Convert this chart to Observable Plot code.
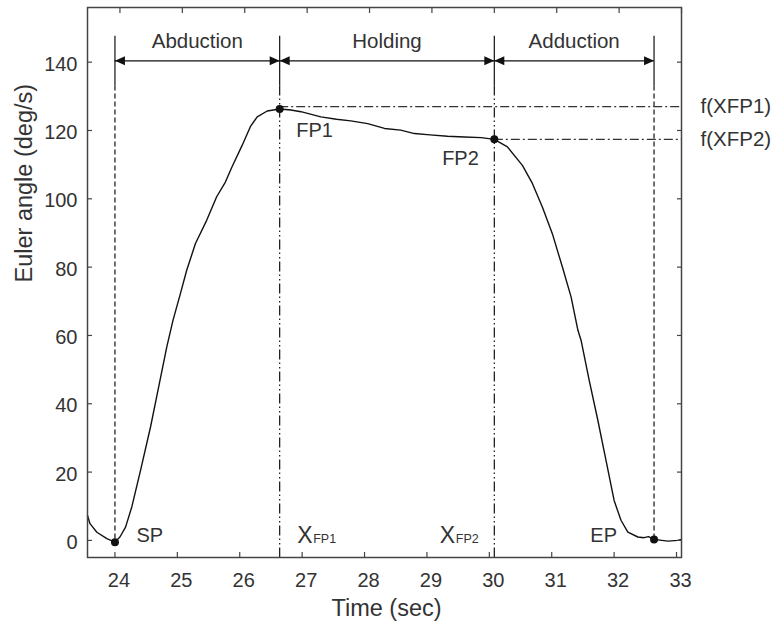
<!DOCTYPE html>
<html>
<head>
<meta charset="utf-8">
<script src="https://cdn.jsdelivr.net/npm/d3@7"></script>
<script src="https://cdn.jsdelivr.net/npm/@observablehq/plot@0.6"></script>
<style>
  html, body { margin: 0; padding: 0; background: #fff; }
</style>
</head>
<body>
<div id="chart"></div>
<script>
// ---- data ----
const time = [23.56, 23.60, 23.71, 23.87, 24.00, 24.08, 24.17, 24.27, 24.41, 24.57, 24.70, 24.83, 24.93,
  25.05, 25.15, 25.29, 25.47, 25.63, 25.77, 25.875, 26.04, 26.17, 26.28, 26.44, 26.64,
  26.82, 26.98, 27.30, 27.55, 27.78, 28.05, 28.32, 28.58, 28.80, 29.05, 29.33, 29.60, 29.87, 30.08,
  30.29, 30.53, 30.69, 30.85, 31.01, 31.17, 31.31, 31.42, 31.47, 31.60, 31.74, 31.87, 32.00, 32.11,
  32.22, 32.38, 32.48, 32.55, 32.64, 32.86, 33.02, 33.08];
const angle = [7.3, 4.9, 2.4, 0.5, -0.5, 1.0, 3.9, 9.8, 20.5, 33.2, 44.9, 56.6, 64.4,
  72.3, 79.1, 86.9, 93.7, 100.6, 104.9, 109.3, 115.7, 121.1, 124.0, 125.7, 126.3,
  126.0, 125.5, 124.0, 123.3, 122.8, 122.0, 120.6, 120.1, 119.1, 118.7, 118.3, 118.1, 117.9, 117.4,
  115.2, 109.8, 104.5, 97.6, 89.8, 80.1, 71.3, 61.5, 58.6, 46.9, 35.1, 23.4, 11.7, 5.9,
  2.4, 1.0, 0.8, 1.1, 0.3, -0.2, 0.0, 0.3];

const xTicks = [24, 25, 26, 27, 28, 29, 30, 31, 32, 33];
const yTicks = [0, 20, 40, 60, 80, 100, 120, 140];
const xDomain = [23.56, 33.08];
const yDomain = [-5, 156];

const phaseNames = ["Abduction", "Holding", "Adduction"];
const boundaryTimes = [24.0, 26.64, 30.08, 32.64];
const pointNames = ["SP", "FP1", "FP2", "EP"];
const pointValues = [-0.5, 126.3, 117.4, 0.3];
const levelNames = ["f(XFP1)", "f(XFP2)"];
const levelValues = [127.0, 117.4];
const arrowLevel = 140.4;
const phaseLabelLevel = 144.0;
const barTopLevel = 147.6;
const barSolidEndLevel = 133;

// ---- tables built from the arrays ----
const curve = time.map((t, i) => ({t, v: angle[i]}));
const phases = phaseNames.map((name, i) => ({name, start: boundaryTimes[i], end: boundaryTimes[i + 1]}));
const points = pointNames.map((name, i) => ({name, t: boundaryTimes[i], v: pointValues[i]}));
const levels = levelNames.map((name, i) => ({name, t: boundaryTimes[i + 1], v: levelValues[i]}));
const endPoints = [points[0], points[3]];
const fixPoints = [points[1], points[2]];

const headRight = {draw(ctx) { ctx.moveTo(0, 0); ctx.lineTo(-10, -4.5); ctx.lineTo(-10, 4.5); ctx.closePath(); }};
const headLeft = {draw(ctx) { ctx.moveTo(0, 0); ctx.lineTo(10, -4.5); ctx.lineTo(10, 4.5); ctx.closePath(); }};

const ink = "#111";
const axisInk = "#444";
const FONT = "'Liberation Sans', Arial, Helvetica, sans-serif";

const plot = Plot.plot({
  width: 774,
  height: 625,
  marginLeft: 87,
  marginRight: 93,
  marginTop: 7,
  marginBottom: 68,
  style: {fontFamily: FONT, fontSize: "20px", color: "#333", background: "#fff", overflow: "visible"},
  x: {domain: xDomain},
  y: {domain: yDomain},
  marks: [
    // vertical boundary bars (solid top part)
    Plot.ruleX(boundaryTimes, {x: d => d, y1: barSolidEndLevel, y2: barTopLevel, stroke: ink, strokeWidth: 1.2}),
    // dashed lines to SP / EP
    Plot.ruleX(endPoints, {x: "t", y1: barSolidEndLevel, y2: "v", stroke: ink, strokeWidth: 1.2, strokeDasharray: "5,3"}),
    // dash-dot-dot lines at FP1 / FP2
    Plot.ruleX(fixPoints, {x: "t", y1: barSolidEndLevel, y2: yDomain[0], stroke: ink, strokeWidth: 1.2, strokeDasharray: "10,3,1.5,3,1.5,3"}),
    // horizontal dash-dot reference levels
    Plot.ruleY(levels, {y: "v", x1: "t", x2: xDomain[1], stroke: "#333", strokeWidth: 1.2, strokeDasharray: "9,3,2,3"}),
    // phase arrows
    Plot.ruleY(phases, {y: arrowLevel, x1: "start", x2: "end", stroke: ink, strokeWidth: 1.3}),
    Plot.dot(phases, {x: "end", y: arrowLevel, symbol: headRight, fill: ink, stroke: "none"}),
    Plot.dot(phases, {x: "start", y: arrowLevel, symbol: headLeft, fill: ink, stroke: "none"}),
    Plot.text(phases, {x: d => (d.start + d.end) / 2, y: phaseLabelLevel, text: "name", lineAnchor: "bottom", fontSize: 20.5}),
    // curve
    Plot.line(curve, {x: "t", y: "v", stroke: ink, strokeWidth: 1.4}),
    // key points
    Plot.dot(points, {x: "t", y: "v", r: 4, fill: ink, stroke: "none"}),
    Plot.text(points.filter(d => d.name === "SP"), {x: "t", y: "v", text: "name", textAnchor: "start", lineAnchor: "bottom", dx: 21.5, dy: 0, fontSize: 20}),
    Plot.text(points.filter(d => d.name === "EP"), {x: "t", y: "v", text: "name", textAnchor: "end", lineAnchor: "bottom", dx: -37, dy: 2.7, fontSize: 20}),
    Plot.text(points.filter(d => d.name === "FP1"), {x: "t", y: "v", text: "name", textAnchor: "start", lineAnchor: "bottom", dx: 16.5, dy: 28, fontSize: 20}),
    Plot.text(points.filter(d => d.name === "FP2"), {x: "t", y: "v", text: "name", textAnchor: "end", lineAnchor: "bottom", dx: -15.5, dy: 25.7, fontSize: 20}),
    // X_FP labels near the time axis
    Plot.text([points[1]], {x: "t", frameAnchor: "bottom", text: () => "X", textAnchor: "start", lineAnchor: "bottom", dx: 17.5, dy: -14.7, fontSize: 23}),
    Plot.text([points[1]], {x: "t", frameAnchor: "bottom", text: "name", textAnchor: "start", lineAnchor: "bottom", dx: 33.5, dy: -14.7, fontSize: 12.5}),
    Plot.text([points[2]], {x: "t", frameAnchor: "bottom", text: () => "X", textAnchor: "start", lineAnchor: "bottom", dx: -54.5, dy: -14.7, fontSize: 23}),
    Plot.text([points[2]], {x: "t", frameAnchor: "bottom", text: "name", textAnchor: "start", lineAnchor: "bottom", dx: -38.5, dy: -14.7, fontSize: 12.5}),
    // f(X) labels outside right
    Plot.text(levels, {x: xDomain[1], y: "v", text: "name", textAnchor: "start", dx: 19, fontSize: 20.5}),
    // frame and axes
    Plot.frame({stroke: axisInk, strokeWidth: 1.5}),
    Plot.axisX({anchor: "bottom", ticks: xTicks, tickSize: -5, tickFormat: () => "", stroke: axisInk, strokeWidth: 1.2, label: null}),
    Plot.axisX({anchor: "bottom", ticks: xTicks, tickSize: 0, tickPadding: 15, dx: 4, fontSize: 20, label: null}),
    Plot.axisX({anchor: "top", ticks: xTicks, tickSize: -5, dx: 5, tickFormat: () => "", stroke: axisInk, strokeWidth: 1.2, label: null}),
    Plot.axisY({anchor: "left", ticks: yTicks, tickSize: -5, tickFormat: () => "", stroke: axisInk, strokeWidth: 1.2, label: null}),
    Plot.axisY({anchor: "left", ticks: yTicks, tickSize: 0, tickPadding: 10, dy: 2, fontSize: 20, label: null}),
    Plot.axisY({anchor: "right", ticks: yTicks, tickSize: -5, tickFormat: () => "", stroke: axisInk, strokeWidth: 1.2, label: null}),
    // axis titles
    Plot.text(["Time (sec)"], {frameAnchor: "bottom", text: d => d, dx: 2, dy: 58, lineAnchor: "bottom", fontSize: 23.5}),
    Plot.text(["Euler angle (deg/s)"], {frameAnchor: "left", text: d => d, rotate: -90, dx: -63, fontSize: 23.5})
  ]
});

document.getElementById("chart").appendChild(plot);
</script>
</body>
</html>
